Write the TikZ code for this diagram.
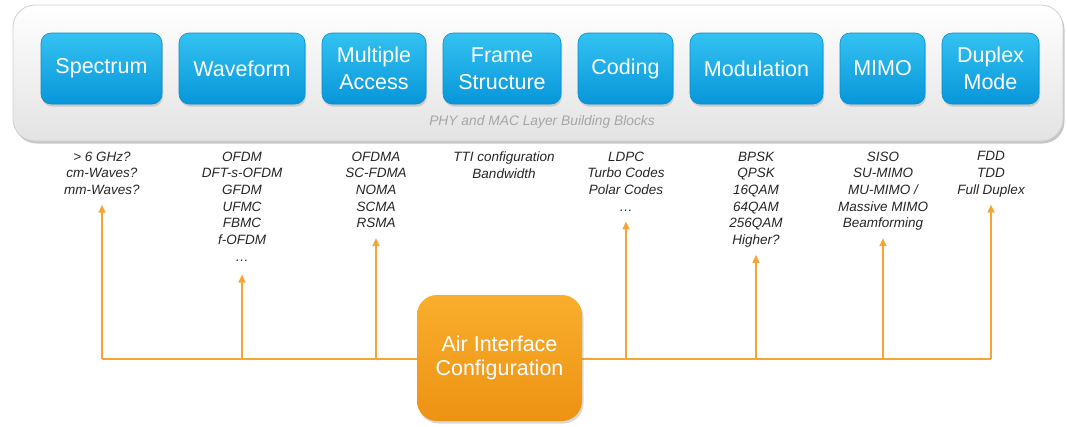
\documentclass[tikz,border=0pt]{standalone}
\usepackage{fontspec}
\setmainfont{Liberation Sans}
\usetikzlibrary{arrows.meta, positioning, shadows}

\definecolor{blockTop}{HTML}{34C2F2}
\definecolor{blockBot}{HTML}{0796D9}
\definecolor{blockEdge}{HTML}{0A8CCB}
\definecolor{confTop}{HTML}{F8AE2C}
\definecolor{confBot}{HTML}{EE9213}
\definecolor{linkOrange}{HTML}{F6A436}
\definecolor{optText}{HTML}{262626}
\definecolor{panelEdge}{HTML}{CFCFCF}

\begin{document}
\begin{tikzpicture}[x=1pt, y=-1pt,
    block/.style={rounded corners=10pt, top color=blockTop, bottom color=blockBot,
        draw=blockEdge, line width=0.6pt, text=white, align=center,
        minimum height=71pt, inner sep=2pt, font=\fontsize{21.5}{27}\selectfont,
        drop shadow={shadow xshift=1pt, shadow yshift=-2.5pt, opacity=0.3}},
    optlist/.style={anchor=north, align=center, inner sep=0pt, text depth=0pt,
        text=optText, font=\itshape\fontsize{13.5}{16.7}\selectfont},
    link/.style={draw=linkOrange, line width=1.6pt, shorten >=10pt,
        -{Triangle[width=7pt, length=8pt]}},
    trunk/.style={draw=linkOrange, line width=1.6pt}]

    \useasboundingbox (0,0) rectangle (1067,426);

  % Panel
    \draw[rounded corners=22pt, top color=white, bottom color=black!11,
        draw=panelEdge, line width=0.8pt,
        drop shadow={shadow xshift=1.5pt, shadow yshift=-2.5pt, opacity=0.45}]
        (13,5) rectangle (1063,141);
    \node[text=black!35, font=\itshape\fontsize{13.8}{16}\selectfont]
        (caption) at (542,122) {PHY and MAC Layer Building Blocks};

  % Building blocks
    \node[block, minimum width=121pt] (spectrum) at (101.5,68.5) {Spectrum};
    \node[block, minimum width=126pt] (waveform) at (242,68.5) {Waveform};
    \node[block, minimum width=104pt] (multacc) at (374,68.5) {Multiple\\Access};
    \node[block, minimum width=118pt] (frame) at (502,68.5) {Frame\\Structure};
    \node[block, minimum width=95pt] (coding) at (625.5,68.5) {Coding};
    \node[block, minimum width=133pt] (modulation) at (756.5,68.5) {Modulation};
    \node[block, minimum width=85pt] (mimo) at (882.5,68.5) {MIMO};
    \node[block, minimum width=97pt] (duplex) at (990.5,68.5) {Duplex\\Mode};

  % Options
    \node[optlist] (specList) at (102,151.5) {> 6 GHz?\\cm-Waves?\\mm-Waves?};
    \node[optlist] (waveList) at (242,151.5) {OFDM\\DFT-s-OFDM\\GFDM\\UFMC\\FBMC\\f-OFDM\\…};
    \node[optlist] (maList) at (376,151.5) {OFDMA\\SC-FDMA\\NOMA\\SCMA\\RSMA};
    \node[optlist] (frameList) at (504,151.5) {TTI configuration\\Bandwidth};
    \node[optlist] (codList) at (626,151.5) {LDPC\\Turbo Codes\\Polar Codes\\…};
    \node[optlist] (modList) at (756,151.5) {BPSK\\QPSK\\16QAM\\64QAM\\256QAM\\Higher?};
    \node[optlist] (mimoList) at (883,151.5) {SISO\\SU-MIMO\\MU-MIMO /\\Massive MIMO\\Beamforming};
    \node[optlist] (dupList) at (991,151.5) {FDD\\TDD\\Full Duplex};

  % Feet on the trunk
    \coordinate (specFoot) at (102,359);
    \coordinate (waveFoot) at (242,359);
    \coordinate (maFoot) at (376,359);
    \coordinate (codFoot) at (626,359);
    \coordinate (modFoot) at (756,359);
    \coordinate (mimoFoot) at (883,359);
    \coordinate (dupFoot) at (991,359);

    \draw[trunk] (specFoot) -- (dupFoot);
    \draw[link] (specFoot) -- (specList.south);
    \draw[link, shorten >=13pt] (waveFoot) -- (waveList.south);
    \draw[link] (maFoot) -- (maList.south);
    \draw[link] (codFoot) -- (codList.south);
    \draw[link] (modFoot) -- (modList.south);
    \draw[link] (mimoFoot) -- (mimoList.south);
    \draw[link] (dupFoot) -- (dupList.south);

  % Air interface
    \node[rounded corners=20pt, top color=confTop, bottom color=confBot,
        minimum width=165pt, minimum height=126pt, text=white, align=center,
        font=\fontsize{21.5}{24}\selectfont,
        drop shadow={shadow xshift=1.5pt, shadow yshift=-2.5pt, opacity=0.3}]
        (airif) at (499.5,358) {Air Interface\\Configuration};

\end{tikzpicture}
\end{document}
